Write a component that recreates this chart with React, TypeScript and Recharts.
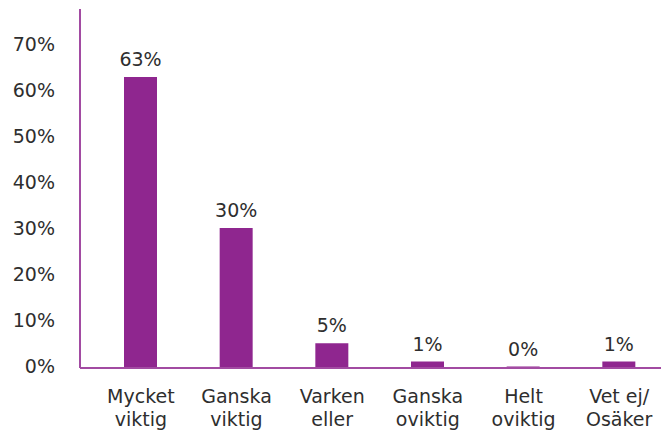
import React from "react";
import { BarChart, Bar, XAxis, YAxis, LabelList } from "recharts";

const categories = [
  "Mycket\nviktig",
  "Ganska\nviktig",
  "Varken\neller",
  "Ganska\noviktig",
  "Helt\noviktig",
  "Vet ej/\nOsäker",
];
const shares = [63.2, 30.4, 5.4, 1.4, 0.3, 1.4];
const yTicks = [0, 10, 20, 30, 40, 50, 60, 70];

const BAR_COLOR = "#8f268f";
const AXIS_COLOR = "#a24ba2";
const TEXT_COLOR = "#2e2e2e";
const FONT = "'DejaVu Sans', sans-serif";

const chartData = categories.map((name, i) => ({ name, value: shares[i] }));

const CategoryTick = (props: any) => {
  const { x, y, payload } = props;
  const lines: string[] = String(payload.value).split("\n");
  return (
    <g transform={`translate(${x},${y})`}>
      {lines.map((line, i) => (
        <text
          key={i}
          x={0}
          y={27 + i * 23}
          textAnchor="middle"
          fill={TEXT_COLOR}
          style={{ fontSize: 19, fontFamily: FONT }}
        >
          {line}
        </text>
      ))}
    </g>
  );
};

const renderValueLabel = (props: any) => {
  const { x, y, width, value } = props;
  return (
    <text
      x={x + width / 2}
      y={y - 11}
      textAnchor="middle"
      fill={TEXT_COLOR}
      style={{ fontSize: 19, fontFamily: FONT }}
    >
      {`${Math.round(value)}%`}
    </text>
  );
};

export default function App() {
  return (
    <div
      style={{
        position: "absolute",
        left: 0,
        top: 0,
        width: 661,
        height: 430,
        overflow: "hidden",
        background: "#fff",
      }}
    >
      <BarChart
        width={667}
        height={430}
        data={chartData}
        margin={{ top: 9, right: 0, left: 0, bottom: 0 }}
      >
        <XAxis
          dataKey="name"
          height={62}
          interval={0}
          tick={<CategoryTick />}
          tickLine={false}
          axisLine={{ stroke: AXIS_COLOR, strokeWidth: 2 }}
          padding={{ left: 13, right: 0 }}
        />
        <YAxis
          width={80}
          domain={[0, 78]}
          ticks={yTicks}
          tickFormatter={(v: number) => `${v}%`}
          tickLine={false}
          tickSize={0}
          tickMargin={25}
          axisLine={{ stroke: AXIS_COLOR, strokeWidth: 2 }}
          tick={{ fill: TEXT_COLOR, fontSize: 19, fontFamily: FONT, dy: -2 }}
        />
        <Bar dataKey="value" fill={BAR_COLOR} barSize={33} isAnimationActive={false}>
          <LabelList dataKey="value" content={renderValueLabel} />
        </Bar>
      </BarChart>
    </div>
  );
}
